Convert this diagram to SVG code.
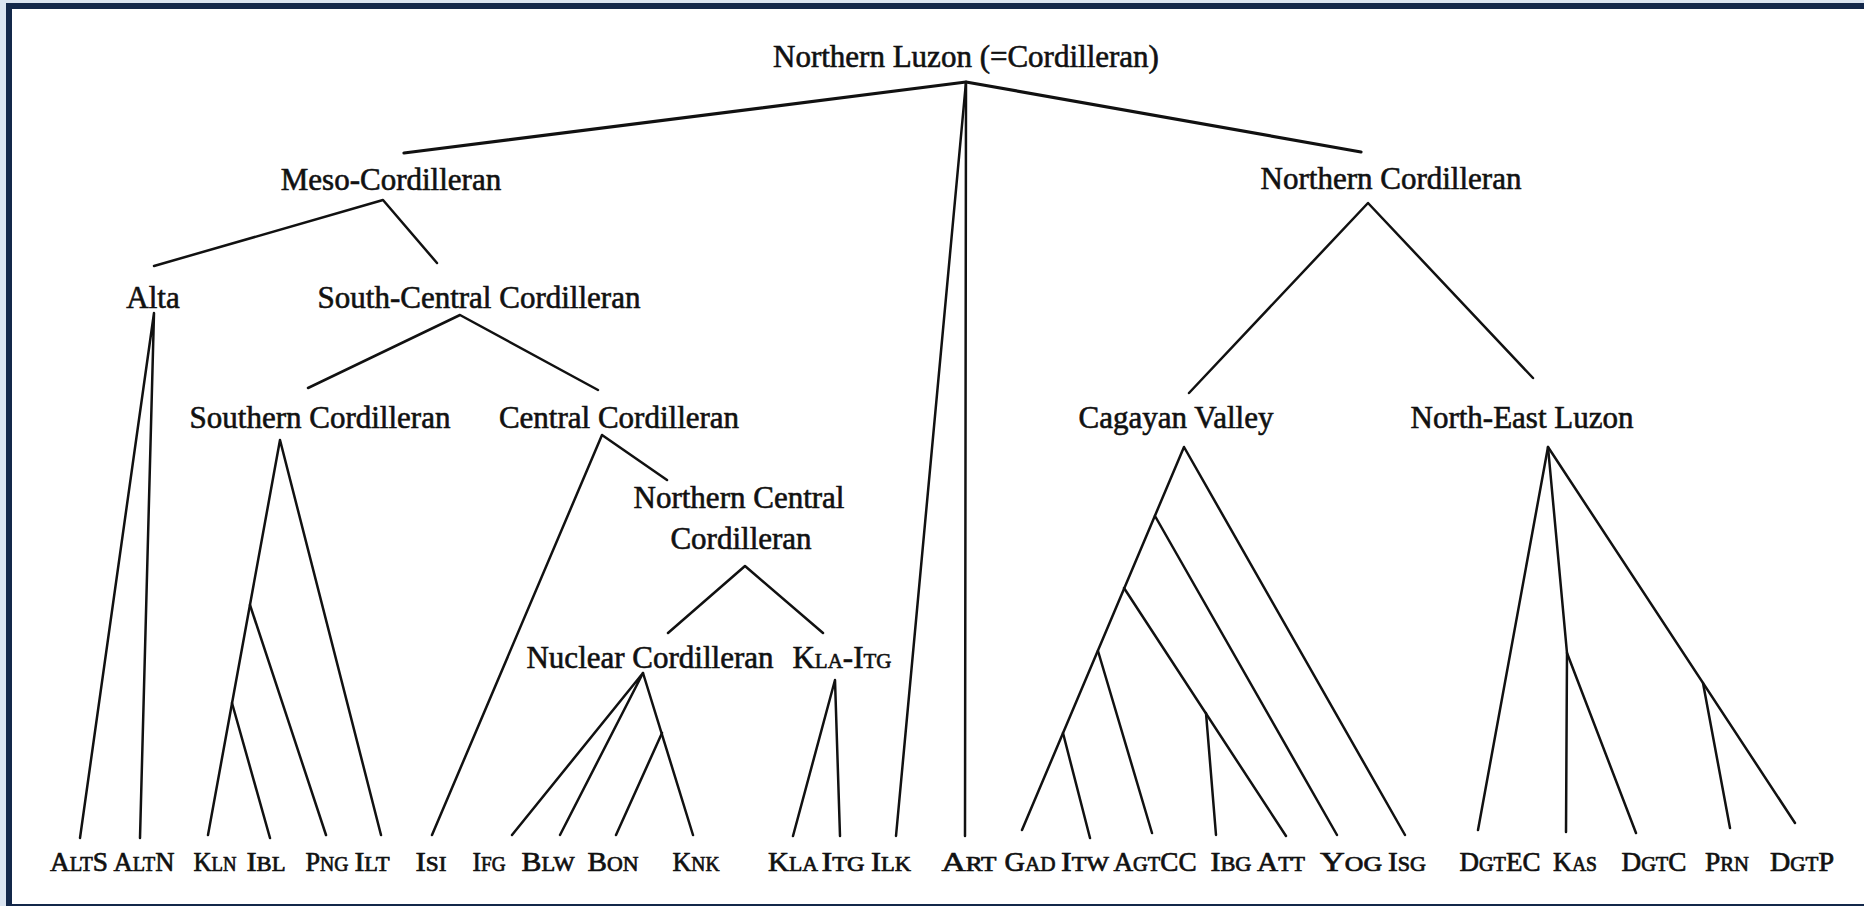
<svg xmlns="http://www.w3.org/2000/svg" width="1864" height="906" viewBox="0 0 1864 906">
<defs>
<style>
.h{font-family:"Liberation Serif","Times New Roman",serif;font-size:31px;fill:#111;stroke:#111;stroke-width:0.6;text-anchor:middle}
.lf{font-family:"Liberation Serif","Times New Roman",serif;font-size:28px;fill:#111;stroke:#111;stroke-width:0.7;text-anchor:middle}
.sc{font-size:21px}
.cn path{stroke:#111;stroke-width:2.5;fill:none;stroke-linecap:round;stroke-linejoin:round}
.cn .thick{stroke-width:3.2}
</style>
</defs>
<rect x="0" y="0" width="1864" height="906" fill="#dbe5f1"/>
<rect x="6" y="3" width="1858" height="903" fill="#13284a"/>
<rect x="12" y="9" width="1852" height="895" fill="#ffffff"/>

<g id="connectors" class="cn">
<path class="thick" d="M404,153 L966,82 L1361,152"/>
<path d="M966,82 L896,836"/>
<path d="M966,82 L965,836"/>
<path d="M154,266 L383,200 L437,263"/>
<path d="M80,838 L154,313 L140,838"/>
<path d="M308,388 L460,315 L598,390"/>
<path d="M381,835 L280,440 L208,835"/>
<path d="M250,605 L326,835"/>
<path d="M232,703 L270,838"/>
<path d="M432,835 L602,435 L667,480"/>
<path d="M668,633 L745,566 L823,633"/>
<path d="M512,835 L643,673 L560,835"/>
<path d="M643,673 L693,835"/>
<path d="M662,733 L616,835"/>
<path d="M793,836 L835,680 L840,836"/>
<path d="M1189,393 L1368,203 L1533,378"/>
<path d="M1022,830 L1184,447 L1405,835"/>
<path d="M1155,516 L1337,835"/>
<path d="M1124,588 L1286,836"/>
<path d="M1098,651 L1152,833"/>
<path d="M1063,733 L1090,838"/>
<path d="M1206,713 L1216,835"/>
<path d="M1478,830 L1548,447 L1795,823"/>
<path d="M1548,447 L1567,653 L1566,832"/>
<path d="M1567,653 L1636,833"/>
<path d="M1703,683 L1730,828"/>
</g>

<g id="n-root"><text class="h" x="966" y="67">Northern Luzon (=Cordilleran)</text></g>
<g id="n-meso"><text class="h" x="391" y="190">Meso-Cordilleran</text></g>
<g id="n-northern"><text class="h" x="1391" y="189">Northern Cordilleran</text></g>
<g id="n-alta"><text class="h" x="153" y="308">Alta</text></g>
<g id="n-southcentral"><text class="h" x="479" y="308">South-Central Cordilleran</text></g>
<g id="n-southern"><text class="h" x="320" y="428">Southern Cordilleran</text></g>
<g id="n-central"><text class="h" x="619" y="428">Central Cordilleran</text></g>
<g id="n-cagayan"><text class="h" x="1176" y="428">Cagayan Valley</text></g>
<g id="n-neluzon"><text class="h" x="1522" y="428">North-East Luzon</text></g>
<g id="n-ncc"><text class="h" x="739" y="508">Northern Central</text><text class="h" x="741" y="549">Cordilleran</text></g>
<g id="n-nuclear"><text class="h" x="650" y="668">Nuclear Cordilleran</text></g>
<g id="n-klaitg"><text class="h" x="842" y="668">K<tspan class="sc">LA</tspan>-I<tspan class="sc">TG</tspan></text></g>

<g id="leaf-alts"><text class="lf" x="79" y="871" textLength="58" lengthAdjust="spacingAndGlyphs">A<tspan class="sc">LT</tspan>S</text></g>
<g id="leaf-altn"><text class="lf" x="144" y="871" textLength="61" lengthAdjust="spacingAndGlyphs">A<tspan class="sc">LT</tspan>N</text></g>
<g id="leaf-kln"><text class="lf" x="215" y="871" textLength="43" lengthAdjust="spacingAndGlyphs">K<tspan class="sc">LN</tspan></text></g>
<g id="leaf-ibl"><text class="lf" x="266" y="871" textLength="39" lengthAdjust="spacingAndGlyphs">I<tspan class="sc">BL</tspan></text></g>
<g id="leaf-png"><text class="lf" x="327" y="871" textLength="43" lengthAdjust="spacingAndGlyphs">P<tspan class="sc">NG</tspan></text></g>
<g id="leaf-ilt"><text class="lf" x="372" y="871" textLength="35" lengthAdjust="spacingAndGlyphs">I<tspan class="sc">LT</tspan></text></g>
<g id="leaf-isi"><text class="lf" x="431" y="871" textLength="31" lengthAdjust="spacingAndGlyphs">I<tspan class="sc">SI</tspan></text></g>
<g id="leaf-ifg"><text class="lf" x="489" y="871" textLength="33" lengthAdjust="spacingAndGlyphs">I<tspan class="sc">FG</tspan></text></g>
<g id="leaf-blw"><text class="lf" x="548" y="871" textLength="53" lengthAdjust="spacingAndGlyphs">B<tspan class="sc">LW</tspan></text></g>
<g id="leaf-bon"><text class="lf" x="613" y="871" textLength="51" lengthAdjust="spacingAndGlyphs">B<tspan class="sc">ON</tspan></text></g>
<g id="leaf-knk"><text class="lf" x="696" y="871" textLength="47" lengthAdjust="spacingAndGlyphs">K<tspan class="sc">NK</tspan></text></g>
<g id="leaf-kla"><text class="lf" x="793" y="871" textLength="50" lengthAdjust="spacingAndGlyphs">K<tspan class="sc">LA</tspan></text></g>
<g id="leaf-itg"><text class="lf" x="843" y="871" textLength="43" lengthAdjust="spacingAndGlyphs">I<tspan class="sc">TG</tspan></text></g>
<g id="leaf-ilk"><text class="lf" x="891" y="871" textLength="40" lengthAdjust="spacingAndGlyphs">I<tspan class="sc">LK</tspan></text></g>
<g id="leaf-art"><text class="lf" x="969" y="871" textLength="55" lengthAdjust="spacingAndGlyphs">A<tspan class="sc">RT</tspan></text></g>
<g id="leaf-gad"><text class="lf" x="1030" y="871" textLength="51" lengthAdjust="spacingAndGlyphs">G<tspan class="sc">AD</tspan></text></g>
<g id="leaf-itw"><text class="lf" x="1085" y="871" textLength="48" lengthAdjust="spacingAndGlyphs">I<tspan class="sc">TW</tspan></text></g>
<g id="leaf-agtcc"><text class="lf" x="1155" y="871" textLength="83" lengthAdjust="spacingAndGlyphs">A<tspan class="sc">GT</tspan>CC</text></g>
<g id="leaf-ibg"><text class="lf" x="1231" y="871" textLength="41" lengthAdjust="spacingAndGlyphs">I<tspan class="sc">BG</tspan></text></g>
<g id="leaf-att"><text class="lf" x="1281" y="871" textLength="48" lengthAdjust="spacingAndGlyphs">A<tspan class="sc">TT</tspan></text></g>
<g id="leaf-yog"><text class="lf" x="1351" y="871" textLength="62" lengthAdjust="spacingAndGlyphs">Y<tspan class="sc">OG</tspan></text></g>
<g id="leaf-isg"><text class="lf" x="1407" y="871" textLength="38" lengthAdjust="spacingAndGlyphs">I<tspan class="sc">SG</tspan></text></g>
<g id="leaf-dgtec"><text class="lf" x="1500" y="871" textLength="81" lengthAdjust="spacingAndGlyphs">D<tspan class="sc">GT</tspan>EC</text></g>
<g id="leaf-kas"><text class="lf" x="1575" y="871" textLength="44" lengthAdjust="spacingAndGlyphs">K<tspan class="sc">AS</tspan></text></g>
<g id="leaf-dgtc"><text class="lf" x="1654" y="871" textLength="65" lengthAdjust="spacingAndGlyphs">D<tspan class="sc">GT</tspan>C</text></g>
<g id="leaf-prn"><text class="lf" x="1727" y="871" textLength="44" lengthAdjust="spacingAndGlyphs">P<tspan class="sc">RN</tspan></text></g>
<g id="leaf-dgtp"><text class="lf" x="1802" y="871" textLength="64" lengthAdjust="spacingAndGlyphs">D<tspan class="sc">GT</tspan>P</text></g>
</svg>
